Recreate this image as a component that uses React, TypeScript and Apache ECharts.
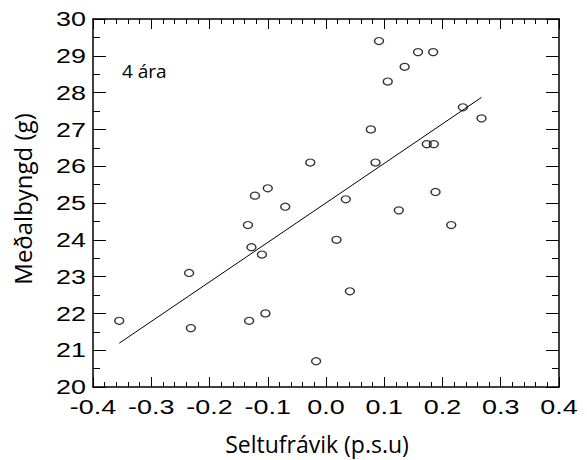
import React, { useEffect, useRef } from "react";
import * as echarts from "echarts";

const xValues = [
  -0.355, -0.232, -0.235, -0.134, -0.128, -0.110, -0.070, -0.132, -0.104, -0.017,
  -0.027, -0.100, -0.122, 0.091, 0.158, 0.184, 0.135, 0.106, 0.235, 0.267,
  0.077, 0.173, 0.185, 0.085, 0.188, 0.034, 0.125, 0.215, 0.018, 0.041,
];
const yValues = [
  21.8, 21.6, 23.1, 24.4, 23.8, 23.6, 24.9, 21.8, 22.0, 20.7,
  26.1, 25.4, 25.2, 29.4, 29.1, 29.1, 28.7, 28.3, 27.6, 27.3,
  27.0, 26.6, 26.6, 26.1, 25.3, 25.1, 24.8, 24.4, 24.0, 22.6,
];
const fitX = [-0.355, 0.267];
const fitY = [21.19, 27.87];
const xTicks = [-0.4, -0.3, -0.2, -0.1, 0.0, 0.1, 0.2, 0.3, 0.4];
const yTicks = [20, 21, 22, 23, 24, 25, 26, 27, 28, 29, 30];
const xTitle = "Seltufrávik (p.s.u)";
const yTitle = "Meðalbyngd (g)";
const panelLabel = "4 ára";

export default function App() {
  const ref = useRef<HTMLDivElement>(null);
  useEffect(() => {
    if (!ref.current) return;
    const chart = echarts.init(ref.current, null, { renderer: "svg" });
    const axisLine = { show: true, onZero: false, lineStyle: { color: "#000", width: 1.5 } };
    const xMin = xTicks[0];
    const xMax = xTicks[xTicks.length - 1];
    const yMin = yTicks[0];
    const yMax = yTicks[yTicks.length - 1];
    const baseX = {
      type: "value",
      min: xMin,
      max: xMax,
      interval: 0.1,
      axisLine,
      axisLabel: { show: false },
      splitLine: { show: false },
      axisTick: { inside: true, length: 10, lineStyle: { color: "#000", width: 1 } },
      minorTick: { show: true, splitNumber: 5, length: 5, lineStyle: { color: "#000", width: 1 } },
    };
    const baseY = {
      type: "value",
      min: yMin,
      max: yMax,
      interval: 1,
      axisLine,
      axisLabel: { show: false },
      splitLine: { show: false },
      axisTick: { inside: true, length: 13, lineStyle: { color: "#000", width: 1 } },
      minorTick: { show: true, splitNumber: 2, length: 7, lineStyle: { color: "#000", width: 1 } },
    };
    chart.setOption({
      animation: false,
      backgroundColor: "#fff",
      grid: { left: 93, right: 28, top: 19, bottom: 73 },
      xAxis: [
        { ...baseX, position: "bottom" },
        { ...baseX, position: "top" },
      ],
      yAxis: [
        { ...baseY, position: "left" },
        { ...baseY, position: "right" },
      ],
      series: [
        {
          type: "line",
          data: fitX.map((x, i) => [x, fitY[i]]),
          showSymbol: false,
          symbol: "none",
          lineStyle: { color: "#000", width: 1 },
          silent: true,
        },
        {
          type: "scatter",
          data: xValues.map((x, i) => [x, yValues[i]]),
          symbol: "circle",
          symbolSize: [9, 7],
          itemStyle: { color: "transparent", borderColor: "#000", borderWidth: 1.3 },
        },
      ],
    });

    const tickFont = { fontFamily: "Liberation Sans", fontSize: 19.5, fill: "#000" };
    const stretch = 1.38;
    const gridBottom = chart.convertToPixel({ yAxisIndex: 0 }, yMin) as number;
    const gridLeft = chart.convertToPixel({ xAxisIndex: 0 }, xMin) as number;
    const gridTop = chart.convertToPixel({ yAxisIndex: 0 }, yMax) as number;
    const gridRight = chart.convertToPixel({ xAxisIndex: 0 }, xMax) as number;
    const xLabels = xTicks.map((v) => ({
      type: "text",
      x: chart.convertToPixel({ xAxisIndex: 0 }, v) as number,
      y: gridBottom + 20,
      scaleX: stretch,
      style: { ...tickFont, text: v.toFixed(1), align: "center", verticalAlign: "middle" },
      silent: true,
    }));
    const yLabels = yTicks.map((v) => ({
      type: "text",
      x: gridLeft - 7,
      y: (chart.convertToPixel({ yAxisIndex: 0 }, v) as number) + 0.5,
      scaleX: stretch,
      style: { ...tickFont, text: String(v), align: "right", verticalAlign: "middle" },
      silent: true,
    }));
    const midX = (gridLeft + gridRight) / 2;
    const midY = (gridTop + gridBottom) / 2;
    chart.setOption({
      graphic: [
        ...xLabels,
        ...yLabels,
        {
          type: "text",
          x: midX - 9,
          y: gridBottom + 56.5,
          style: { text: xTitle, fontFamily: "Open Sans", fontSize: 23, fill: "#000", align: "center", verticalAlign: "middle" },
          silent: true,
        },
        {
          type: "text",
          x: gridLeft - 71,
          y: midY - 4,
          rotation: Math.PI / 2,
          style: { text: yTitle, fontFamily: "Open Sans", fontSize: 24, fill: "#000", align: "center", verticalAlign: "middle" },
          silent: true,
        },
        {
          type: "text",
          x: gridLeft + 29,
          y: gridTop + 42,
          style: { text: panelLabel, fontFamily: "Open Sans", fontSize: 19, fill: "#000", align: "left", verticalAlign: "top" },
          silent: true,
        },
      ],
    });
    return () => chart.dispose();
  }, []);
  return (
    <div
      ref={ref}
      style={{ position: "absolute", left: 0, top: 0, width: 587, height: 460 }}
    />
  );
}
